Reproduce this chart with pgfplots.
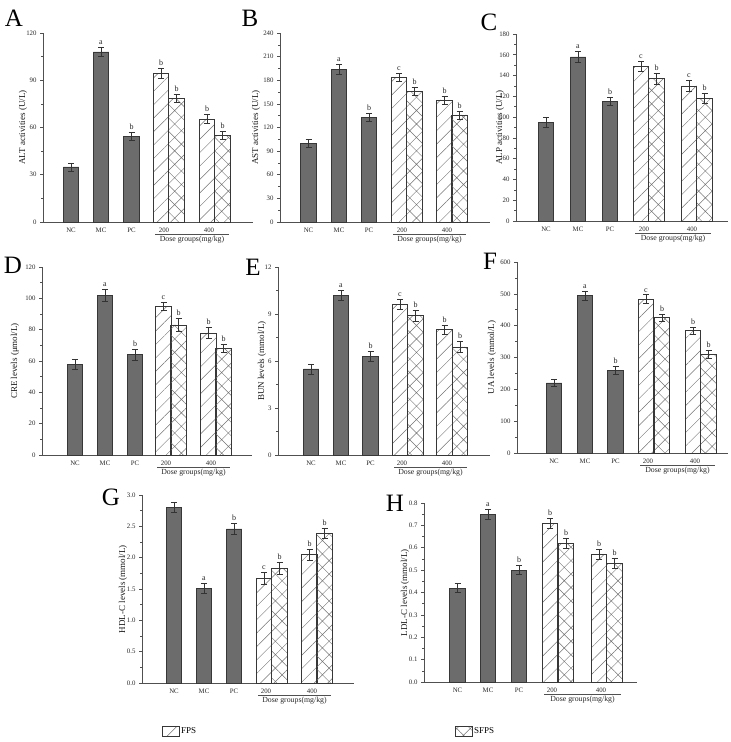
\documentclass[border=0pt]{standalone}
\usepackage{fontspec}
\setmainfont{Liberation Serif}
\usepackage{pgfplots}
\pgfplotsset{compat=1.18}
\usepackage{pgfplotstable}
\usetikzlibrary{patterns.meta}
\definecolor{barfill}{RGB}{108,108,108}
\definecolor{bardraw}{RGB}{55,55,55}
\definecolor{axc}{RGB}{80,80,80}
\definecolor{hatchc}{RGB}{115,115,115}

% rows: NC, MC, PC, FPS200, FPS400, SFPS200, SFPS400
\pgfplotstableread{
x y e l
28 35 2.5 n
58 108 3 a
88.5 54.5 2.5 b
118 94.5 3 b
164 65.5 3 b
133.5 78.5 2.5 b
179.5 55 2.5 b
}\tabA
\pgfplotstableread{
x y e l
28.5 100 5 n
59 194 6 a
89 133 5 b
119 184 5 c
164.5 155 5 b
134.5 166 5 b
179.5 136 5 b
}\tabB
\pgfplotstableread{
x y e l
30 95 4.5 n
62 158 5 a
94 115 4 b
125 149 5 c
173 130 5.5 c
140.5 137 5 b
188.5 118 5 b
}\tabC
\pgfplotstableread{
x y e l
33 58 3 n
63 102 3.6 a
93 64 3.3 b
121.5 95 2.5 c
166.5 78 3.8 b
136.5 83 4 b
181.5 68 2.7 b
}\tabD
\pgfplotstableread{
x y e l
33 5.5 0.32 n
63 10.2 0.3 a
92.5 6.3 0.3 b
122 9.6 0.32 c
166.5 8.0 0.3 b
137.5 8.9 0.34 b
182 6.9 0.34 b
}\tabE
\pgfplotstableread{
x y e l
37 220 12 n
68 495 14 a
98.5 260 13 b
129 483 14 c
176 384 11 b
145 425 11 b
191.5 311 13 b
}\tabF
\pgfplotstableread{
x y e l
32 2.80 0.08 n
62 1.51 0.08 a
92 2.46 0.09 b
122 1.67 0.09 c
167.5 2.05 0.085 b
137.5 1.83 0.09 b
182.5 2.39 0.08 b
}\tabG
\pgfplotstableread{
x y e l
33.5 0.42 0.02 n
64 0.75 0.022 a
95 0.50 0.02 b
126 0.71 0.023 b
175 0.57 0.023 b
142 0.62 0.022 b
190.5 0.53 0.022 b
}\tabH

\pgfplotsset{
  panel/.style={
    scale only axis, clip=false,
    axis x line=bottom, axis y line=left,
    axis line style={-, draw=axc, line width=0.9pt},
    xmin=0, ymin=0, enlargelimits=false,
    xtick style={draw=none},
    ytick style={draw=axc, line width=0.6pt},
    tick align=outside,
    major tick length=3pt, minor tick length=1.8pt,
    minor y tick num=1,
    tick label style={font=\fontsize{6.8}{7}\selectfont, text=black!85},
    xticklabel style={yshift=1pt},
    /pgf/number format/assume math mode=true,
    ylabel style={font=\fontsize{9}{9}\selectfont, anchor=center, text=black!90},
    xticklabels={NC,MC,PC,200,400},
  },
  ebars/.style={
    error bars/y dir=both, error bars/y explicit,
    error bars/error bar style={line width=0.6pt, draw=black!80},
    error bars/error mark options={rotate=90, mark size=3pt, line width=0.6pt, draw=black!80},
  },
  gbar/.style={ybar, bar shift=0pt, bar width=15.5, fill=barfill, draw=bardraw, line width=0.6pt, ebars, skip coords between index={3}{7}},
  fbar/.style={ybar, bar shift=0pt, bar width=15.5, draw=bardraw, line width=0.6pt,
     pattern={Lines[angle=45,distance=9.5pt,line width=0.45pt]}, pattern color=hatchc, ebars,
     skip coords between index={0}{3}, skip coords between index={5}{7}},
  sbar/.style={ybar, bar shift=0pt, bar width=15.5, draw=bardraw, line width=0.6pt,
     pattern={Hatch[angle=45,distance=9.5pt,line width=0.45pt]}, pattern color=hatchc, ebars,
     skip coords between index={0}{5}},
  lbl/.style={draw=none, mark=none, nodes near coords, point meta=explicit symbolic,
     skip coords between index={0}{1},
     nodes near coords style={anchor=south, font=\fontsize{8}{8}\selectfont, inner sep=1pt, yshift=1.5pt, text=black!85}},
}
\newcommand\dose[2]{\draw[axc, line width=0.7pt] ([yshift=-12pt]axis cs:#1,0) -- ([yshift=-12pt]axis cs:#2,0) node[midway, anchor=north, inner sep=1pt, yshift=-0.5pt, font=\fontsize{7.8}{8}\selectfont, text=black!85] {Dose groups(mg/kg)};}
\newcommand\bars[1]{%
  \addplot[gbar] table[x=x,y=y,y error=e] {#1};
  \addplot[fbar] table[x=x,y=y,y error=e] {#1};
  \addplot[sbar] table[x=x,y=y,y error=e] {#1};
  \addplot[lbl] table[x=x,y expr=\thisrow{y}+\thisrow{e},meta=l] {#1};
}

\begin{document}
\begin{tikzpicture}
\useasboundingbox (0,0) rectangle (731pt,-742pt);

% A
\begin{axis}[panel, at={(43pt,-222pt)}, anchor=south west, width=210pt, height=189pt,
  xmax=210, ymax=120, ytick={0,30,...,120}, xtick={28,58,88.5,121,166},
  ylabel={ALT activities (U/L)}, ylabel style={at={([xshift=-20pt]axis description cs:0,0.5)}}]
\bars{\tabA}
\dose{112}{186}
\end{axis}

% B
\begin{axis}[panel, at={(280pt,-222pt)}, anchor=south west, width=210pt, height=189pt,
  xmax=210, ymax=240, ytick={0,30,...,240}, xtick={28.5,59,89,122,167},
  ylabel={AST activities (U/L)}, ylabel style={at={([xshift=-24pt]axis description cs:0,0.5)}}]
\bars{\tabB}
\dose{113}{186}
\end{axis}

% C
\begin{axis}[panel, at={(516pt,-221pt)}, anchor=south west, width=212pt, height=187pt,
  xmax=212, ymax=180, ytick={0,20,...,180}, xtick={30,62,94,128,176},
  ylabel={ALP activities (U/L)}, ylabel style={at={([xshift=-16pt]axis description cs:0,0.5)}}]
\bars{\tabC}
\dose{119}{195}
\end{axis}

% D
\begin{axis}[panel, at={(42pt,-455pt)}, anchor=south west, width=210pt, height=188pt,
  xmax=210, ymax=120, ytick={0,20,...,120}, xtick={33,63,93,124,169},
  ylabel={CRE levels (μmol/L)}, ylabel style={at={([xshift=-27pt]axis description cs:0,0.5)}}]
\bars{\tabD}
\dose{115}{188}
\end{axis}

% E
\begin{axis}[panel, at={(278pt,-455pt)}, anchor=south west, width=212pt, height=188pt,
  xmax=212, ymax=12, ytick={0,3,...,12}, xtick={33,63,92.5,124,169},
  ylabel={BUN levels (mmol/L)}, ylabel style={at={([xshift=-16pt]axis description cs:0,0.5)}}]
\bars{\tabE}
\dose{116}{189}
\end{axis}

% F
\begin{axis}[panel, at={(517pt,-453pt)}, anchor=south west, width=211pt, height=191pt,
  xmax=211, ymax=600, ytick={0,100,...,600}, xtick={37,68,98.5,131,178},
  ylabel={UA levels (mmol/L)}, ylabel style={at={([xshift=-25pt]axis description cs:0,0.5)}}]
\bars{\tabF}
\dose{123}{198}
\end{axis}

% G
\begin{axis}[panel, at={(142pt,-683pt)}, anchor=south west, width=212pt, height=188pt,
  xmax=212, ymax=3, ytick={0,0.5,...,3.0}, xtick={32,62,92,124,170},
  yticklabel style={/pgf/number format/.cd, fixed, fixed zerofill, precision=1},
  ylabel={HDL-C levels (mmol/L)}, ylabel style={at={([xshift=-19pt]axis description cs:0,0.5)}}]
\bars{\tabG}
\dose{116}{189}
\end{axis}

% H
\begin{axis}[panel, at={(424pt,-682pt)}, anchor=south west, width=213pt, height=179pt,
  xmax=213, ymax=0.8, ytick={0,0.1,...,0.8}, xtick={33.5,64,95,128,177},
  yticklabel style={/pgf/number format/.cd, fixed, fixed zerofill, precision=1},
  ylabel={LDL-C levels (mmol/L)}, ylabel style={at={([xshift=-19pt]axis description cs:0,0.5)}}]
\bars{\tabH}
\dose{120}{197}
\end{axis}

% panel letters
\begin{scope}[every node/.style={font=\fontsize{25}{25}\selectfont, inner sep=0pt}]
\node at (14pt,-18pt) {A};
\node at (250pt,-18pt) {B};
\node at (489pt,-22pt) {C};
\node at (13pt,-265pt) {D};
\node at (253pt,-267pt) {E};
\node at (490pt,-261pt) {F};
\node at (111pt,-497pt) {G};
\node at (395pt,-503pt) {H};
\end{scope}

% legend
\draw[bardraw, line width=0.6pt, pattern={Lines[angle=45,distance=9.5pt,line width=0.45pt]}, pattern color=hatchc] (162pt,-726pt) rectangle (179pt,-736pt);
\node[anchor=west, inner sep=1pt, font=\fontsize{9}{9}\selectfont] at (180pt,-731pt) {FPS};
\draw[bardraw, line width=0.6pt, pattern={Hatch[angle=45,distance=9.5pt,line width=0.45pt]}, pattern color=hatchc] (455pt,-726pt) rectangle (472pt,-736pt);
\node[anchor=west, inner sep=1pt, font=\fontsize{9}{9}\selectfont] at (473pt,-731pt) {SFPS};
\end{tikzpicture}
\end{document}
